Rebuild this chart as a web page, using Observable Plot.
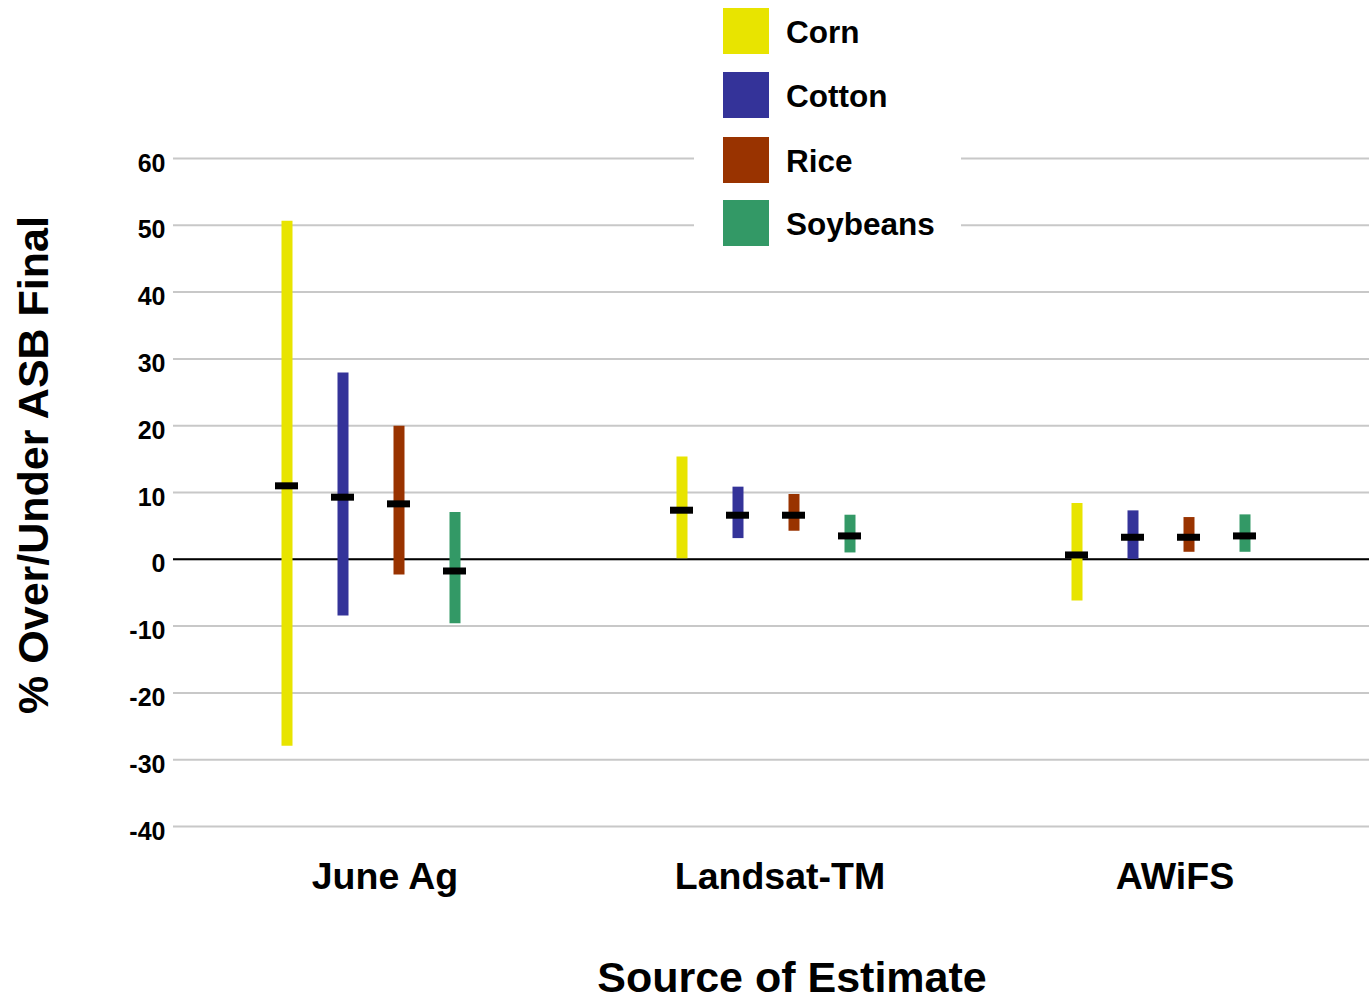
<!DOCTYPE html>
<html><head><meta charset="utf-8">
<script src="https://cdn.jsdelivr.net/npm/d3@7"></script>
<script src="https://cdn.jsdelivr.net/npm/@observablehq/plot@0.6"></script>
<style>
body{margin:0;background:#fff;font-family:"Liberation Sans",Arial,sans-serif;}
#wrap{position:relative;width:1369px;height:1002px;overflow:hidden;background:#fff;}
#chart{position:absolute;left:0;top:0;}
.legend{position:absolute;left:694px;top:0;width:267px;height:250px;background:#fff;}
.item{position:absolute;left:29px;height:46px;display:flex;align-items:center;}
.sw{width:46px;height:46px;margin-right:17px;}
.lab{font-size:31.5px;font-weight:bold;color:#000;white-space:nowrap;position:relative;top:1px;}
.ytitle{position:absolute;left:33px;top:465px;transform:translate(-50%,-50%) rotate(-90deg);font-size:43px;font-weight:bold;white-space:nowrap;line-height:1;}
.xtitle{position:absolute;left:792px;top:955px;transform:translateX(-50%);font-size:43px;font-weight:bold;white-space:nowrap;line-height:1.05;}
</style>
</head><body>
<div id="wrap">
  <div id="chart"></div>
  <div class="legend" id="legend"></div>
  <div class="ytitle">% Over/Under ASB Final</div>
  <div class="xtitle">Source of Estimate</div>
</div>
<script>
const sources = ["June Ag", "Landsat-TM", "AWiFS"];
const crops = ["Corn", "Cotton", "Rice", "Soybeans"];
const cropColors = ["#e8e400", "#343399", "#993300", "#339966"];
const yTicks = [-40, -30, -20, -10, 0, 10, 20, 30, 40, 50, 60];

const cornLow  = [-28.0, 0.1, -6.25];
const cornHigh = [50.6, 15.3, 8.35];
const cornMean = [11.0, 7.35, 0.65];

const cottonLow  = [-8.5, 3.1, 0.0];
const cottonHigh = [27.9, 10.8, 7.25];
const cottonMean = [9.3, 6.6, 3.3];

const riceLow  = [-2.35, 4.2, 1.05];
const riceHigh = [19.9, 9.7, 6.25];
const riceMean = [8.3, 6.6, 3.3];

const soyLow  = [-9.65, 0.95, 1.05];
const soyHigh = [7.0, 6.6, 6.65];
const soyMean = [-1.75, 3.5, 3.5];

const lows = [cornLow, cottonLow, riceLow, soyLow];
const highs = [cornHigh, cottonHigh, riceHigh, soyHigh];
const means = [cornMean, cottonMean, riceMean, soyMean];

const W = 1369, H = 1002;
const xRange = [173, 1358];
const bw = (xRange[1] - xRange[0]) / sources.length;
const barStep = 56;
const markerW = 23;

const marks = [
  Plot.gridY(yTicks, {stroke: "#c8c8c8", strokeOpacity: 1, strokeWidth: 2}),
  Plot.ruleY([0], {stroke: "#000", strokeWidth: 2}),
  Plot.axisY(yTicks, {tickSize: 0, tickPadding: 8, fontSize: 25, fontWeight: "bold", dy: 5, label: null, fill: "#000", tickFormat: d => String(d)}),
  Plot.axisX({tickSize: 0, tickPadding: 36, fontSize: 37.5, fontWeight: "bold", dx: 14, label: null, fill: "#000"})
];

crops.forEach((c, j) => {
  const rows = sources.map((s, i) => ({source: s, crop: c, low: lows[j][i], high: highs[j][i], mean: means[j][i]}));
  const off = (j - (crops.length - 1) / 2) * barStep;
  marks.push(Plot.ruleX(rows, {x: "source", y1: "low", y2: "high", dx: off, stroke: cropColors[j], strokeWidth: 11}));
  marks.push(Plot.tickY(rows, {x: "source", y: "mean", dx: off, stroke: "#000", strokeWidth: 7,
    insetLeft: (bw - markerW) / 2, insetRight: (bw - markerW) / 2}));
});

const chart = Plot.plot({
  width: W, height: H,
  marginLeft: 173, marginRight: 0, marginTop: 158, marginBottom: 176,
  style: {fontFamily: "'Liberation Sans', Arial, sans-serif", background: "#fff", color: "#000"},
  x: {type: "band", domain: sources, range: xRange, padding: 0, axis: null},
  y: {domain: [-40, 60], axis: null},
  marks
});
document.getElementById("chart").appendChild(chart);

const leg = document.getElementById("legend");
const tops = [8, 72, 137, 200];
crops.forEach((c, j) => {
  const d = document.createElement("div");
  d.className = "item";
  d.style.top = tops[j] + "px";
  d.innerHTML = `<div class="sw" style="background:${cropColors[j]}"></div><div class="lab">${c}</div>`;
  leg.appendChild(d);
});
</script>
</body></html>
